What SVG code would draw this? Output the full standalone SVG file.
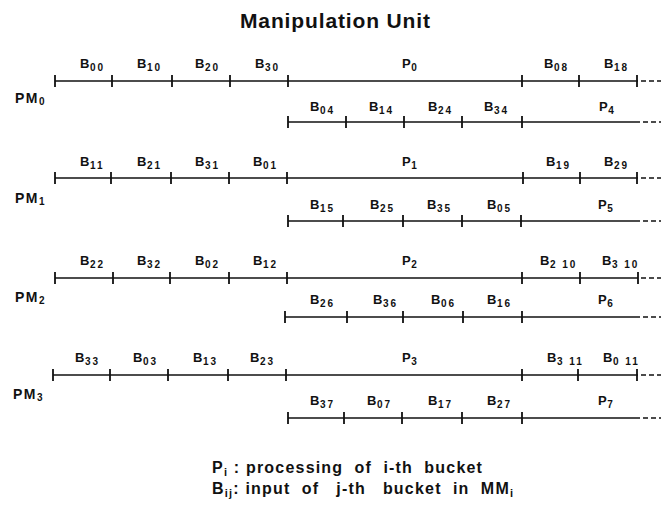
<svg xmlns="http://www.w3.org/2000/svg" width="661" height="508" viewBox="0 0 661 508">
<style>
text{font-family:"Liberation Sans",Arial,sans-serif;fill:#111;font-weight:bold}
.t{font-size:21px}
.l{font-size:13px;letter-spacing:0.5px}
.s{font-size:10px;letter-spacing:2px}
.pm{font-size:14px;letter-spacing:1.5px}
.lg{font-size:16px;letter-spacing:1.2px;white-space:pre}
.lgs{font-size:11px}
.ln{stroke:#111;stroke-width:1.6;fill:none}
.dash{stroke:#111;stroke-width:1.6;stroke-dasharray:5,3;fill:none}
.tk{stroke:#111;stroke-width:1.8}
</style>
<rect width="661" height="508" fill="#fff"/>
<text class="t" x="240" y="28" textLength="190">Manipulation Unit</text>

<g id="connectors">
<!-- row 0 -->
<path class="ln" d="M55 81H638"/><path class="dash" d="M641 81H661"/>
<path class="tk" d="M55 75v12M112 75v12M172 75v12M230 75v12M288 75v12M522 75v12M579 75v12M637 75v12"/>
<path class="ln" d="M288 122H640"/><path class="dash" d="M643 122H661"/>
<path class="tk" d="M288 116v12M346 116v12M404 116v12M462 116v12M522 116v12"/>
<!-- row 1 -->
<path class="ln" d="M55 178H638"/><path class="dash" d="M641 178H661"/>
<path class="tk" d="M55 172v12M111 172v12M171 172v12M229 172v12M287 172v12M523 172v12M580 172v12M637 172v12"/>
<path class="ln" d="M288 221H640"/><path class="dash" d="M643 221H661"/>
<path class="tk" d="M288 215v12M343 215v12M403 215v12M462 215v12M521 215v12"/>
<!-- row 2 -->
<path class="ln" d="M55 278H638"/><path class="dash" d="M641 278H661"/>
<path class="tk" d="M55 272v12M113 272v12M170 272v12M229 272v12M287 272v12M522 272v12M580 272v12M638 272v12"/>
<path class="ln" d="M285 317H640"/><path class="dash" d="M643 317H661"/>
<path class="tk" d="M285 311v12M347 311v12M403 311v12M463 311v12M522 311v12"/>
<!-- row 3 -->
<path class="ln" d="M53 375H638"/><path class="dash" d="M641 375H661"/>
<path class="tk" d="M53 369v12M110 369v12M168 369v12M228 369v12M286 369v12M522 369v12M578 369v12M637 369v12"/>
<path class="ln" d="M288 418H640"/><path class="dash" d="M643 418H661"/>
<path class="tk" d="M288 412v12M344 412v12M402 412v12M462 412v12M522 412v12"/>
</g>

<g id="PM0">
<text class="pm" x="15" y="103">PM<tspan class="s" dy="2">0</tspan></text>
<text class="l" x="80" y="68">B<tspan class="s" dy="3">00</tspan></text>
<text class="l" x="137" y="68">B<tspan class="s" dy="3">10</tspan></text>
<text class="l" x="195" y="68">B<tspan class="s" dy="3">20</tspan></text>
<text class="l" x="255" y="68">B<tspan class="s" dy="3">30</tspan></text>
<text class="l" x="402" y="68">P<tspan class="s" dy="3">0</tspan></text>
<text class="l" x="544" y="68">B<tspan class="s" dy="3">08</tspan></text>
<text class="l" x="604" y="68">B<tspan class="s" dy="3">18</tspan></text>
<text class="l" x="310" y="111">B<tspan class="s" dy="3">04</tspan></text>
<text class="l" x="369" y="111">B<tspan class="s" dy="3">14</tspan></text>
<text class="l" x="428" y="111">B<tspan class="s" dy="3">24</tspan></text>
<text class="l" x="484" y="111">B<tspan class="s" dy="3">34</tspan></text>
<text class="l" x="599" y="111">P<tspan class="s" dy="3">4</tspan></text>
</g>

<g id="PM1">
<text class="pm" x="15" y="203">PM<tspan class="s" dy="2">1</tspan></text>
<text class="l" x="80" y="166">B<tspan class="s" dy="3">11</tspan></text>
<text class="l" x="137" y="166">B<tspan class="s" dy="3">21</tspan></text>
<text class="l" x="195" y="166">B<tspan class="s" dy="3">31</tspan></text>
<text class="l" x="253" y="166">B<tspan class="s" dy="3">01</tspan></text>
<text class="l" x="402" y="166">P<tspan class="s" dy="3">1</tspan></text>
<text class="l" x="546" y="166">B<tspan class="s" dy="3">19</tspan></text>
<text class="l" x="604" y="166">B<tspan class="s" dy="3">29</tspan></text>
<text class="l" x="310" y="209">B<tspan class="s" dy="3">15</tspan></text>
<text class="l" x="370" y="209">B<tspan class="s" dy="3">25</tspan></text>
<text class="l" x="427" y="209">B<tspan class="s" dy="3">35</tspan></text>
<text class="l" x="487" y="209">B<tspan class="s" dy="3">05</tspan></text>
<text class="l" x="598" y="209">P<tspan class="s" dy="3">5</tspan></text>
</g>

<g id="PM2">
<text class="pm" x="15" y="302">PM<tspan class="s" dy="2">2</tspan></text>
<text class="l" x="80" y="265">B<tspan class="s" dy="3">22</tspan></text>
<text class="l" x="137" y="265">B<tspan class="s" dy="3">32</tspan></text>
<text class="l" x="195" y="265">B<tspan class="s" dy="3">02</tspan></text>
<text class="l" x="253" y="265">B<tspan class="s" dy="3">12</tspan></text>
<text class="l" x="402" y="265">P<tspan class="s" dy="3">2</tspan></text>
<text class="l" x="540" y="265">B<tspan class="s" dy="3">2 10</tspan></text>
<text class="l" x="602" y="265">B<tspan class="s" dy="3">3 10</tspan></text>
<text class="l" x="310" y="304">B<tspan class="s" dy="3">26</tspan></text>
<text class="l" x="373" y="304">B<tspan class="s" dy="3">36</tspan></text>
<text class="l" x="431" y="304">B<tspan class="s" dy="3">06</tspan></text>
<text class="l" x="487" y="304">B<tspan class="s" dy="3">16</tspan></text>
<text class="l" x="598" y="304">P<tspan class="s" dy="3">6</tspan></text>
</g>

<g id="PM3">
<text class="pm" x="13" y="399">PM<tspan class="s" dy="2">3</tspan></text>
<text class="l" x="75" y="362">B<tspan class="s" dy="3">33</tspan></text>
<text class="l" x="133" y="362">B<tspan class="s" dy="3">03</tspan></text>
<text class="l" x="193" y="362">B<tspan class="s" dy="3">13</tspan></text>
<text class="l" x="250" y="362">B<tspan class="s" dy="3">23</tspan></text>
<text class="l" x="402" y="362">P<tspan class="s" dy="3">3</tspan></text>
<text class="l" x="547" y="362">B<tspan class="s" dy="3">3 11</tspan></text>
<text class="l" x="603" y="362">B<tspan class="s" dy="3">0 11</tspan></text>
<text class="l" x="310" y="405">B<tspan class="s" dy="3">37</tspan></text>
<text class="l" x="367" y="405">B<tspan class="s" dy="3">07</tspan></text>
<text class="l" x="428" y="405">B<tspan class="s" dy="3">17</tspan></text>
<text class="l" x="487" y="405">B<tspan class="s" dy="3">27</tspan></text>
<text class="l" x="598" y="405">P<tspan class="s" dy="3">7</tspan></text>
</g>

<g id="legend">
<text class="lg" x="212" y="473">P<tspan class="lgs" dy="3">i</tspan><tspan dy="-3"> : processing  of  i-th  bucket</tspan></text>
<text class="lg" x="212" y="494">B<tspan class="lgs" dy="3">ij</tspan><tspan dy="-3">: input  of   j-th   bucket  in  MM</tspan><tspan class="lgs" dy="3">i</tspan></text>
</g>
</svg>
